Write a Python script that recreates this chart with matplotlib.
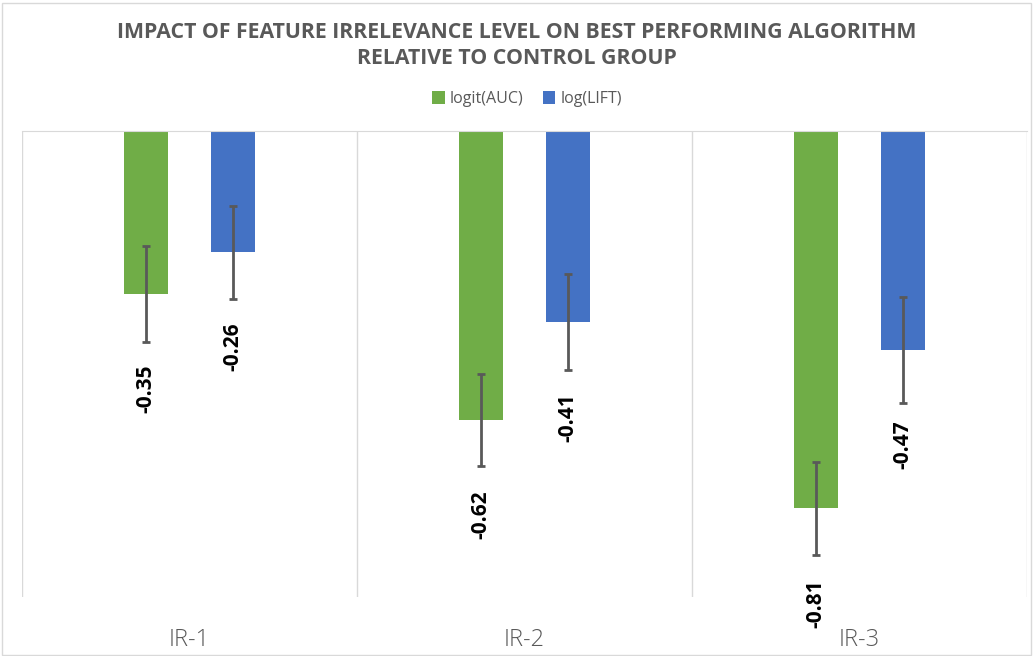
import numpy as np
import matplotlib
matplotlib.use("Agg")
import matplotlib.pyplot as plt
from matplotlib.patches import Rectangle

plt.rcParams['font.family'] = 'Open Sans'

categories = ["IR-1", "IR-2", "IR-3"]
auc = [-0.35, -0.62, -0.81]
lift = [-0.26, -0.41, -0.47]
auc_err = [0.103, 0.099, 0.100]
lift_err = [0.100, 0.103, 0.113]

green = "#70AD47"
blue = "#4472C4"
grey = "#595959"

fig = plt.figure(figsize=(10.33, 6.56), dpi=100)
ax = fig.add_axes([22 / 1033, 1 - 597 / 656, 1005 / 1033, 466 / 656])

x = np.arange(len(categories))
w = 0.134
off = 0.13
err_kw = dict(ecolor=grey, elinewidth=2, capsize=3, capthick=2)
ax.bar(x - off, auc, w, color=green, yerr=auc_err, error_kw=err_kw, label="logit(AUC)", zorder=2)
ax.bar(x + off, lift, w, color=blue, yerr=lift_err, error_kw=err_kw, label="log(LIFT)", zorder=2)

for xs, vals in ((x - off, auc), (x + off, lift)):
    for xi, v in zip(xs, vals):
        ax.annotate(f"{v:.2f}", (xi, v), xytext=(0, -51), textcoords="offset points",
                    rotation=90, ha="center", va="top", fontsize=15, fontweight="bold",
                    color="black")

ax.set_xlim(-0.5, 2.5)
ax.set_ylim(-1, 0)
ax.set_yticks([])
ax.set_xticks(x)
ax.set_xticklabels(categories, fontsize=17, color=grey, fontweight="light")
ax.tick_params(axis="x", length=0, pad=22)
ax.set_xticks([-0.5, 0.5, 1.5, 2.5], minor=True)
ax.tick_params(axis="x", which="minor", length=0)
ax.grid(axis="x", which="minor", color="#D9D9D9", linewidth=1, zorder=0)
for s in ("left", "right", "bottom"):
    ax.spines[s].set_visible(False)
ax.spines["top"].set_color("#D9D9D9")
ax.spines["top"].set_zorder(3)

fig.text(0.5, 1 - 32 / 656, "IMPACT OF FEATURE IRRELEVANCE LEVEL ON BEST PERFORMING ALGORITHM",
         ha="center", va="center", fontsize=15.3, fontweight="bold", color=grey)
fig.text(0.5, 1 - 58 / 656, "RELATIVE TO CONTROL GROUP",
         ha="center", va="center", fontsize=15.3, fontweight="bold", color=grey)

fig.legend(loc="center", bbox_to_anchor=(527 / 1033, 1 - 99 / 656), ncol=2, frameon=False,
           fontsize=11.5, handlelength=0.8, handleheight=0.8, handletextpad=0.3,
           columnspacing=1.2, labelcolor=grey)

fig.patches.append(Rectangle((0.002, 0.002), 0.996, 0.993, transform=fig.transFigure,
                             fill=False, edgecolor="#D9D9D9", linewidth=1))

fig.savefig("out.png", dpi=100)
